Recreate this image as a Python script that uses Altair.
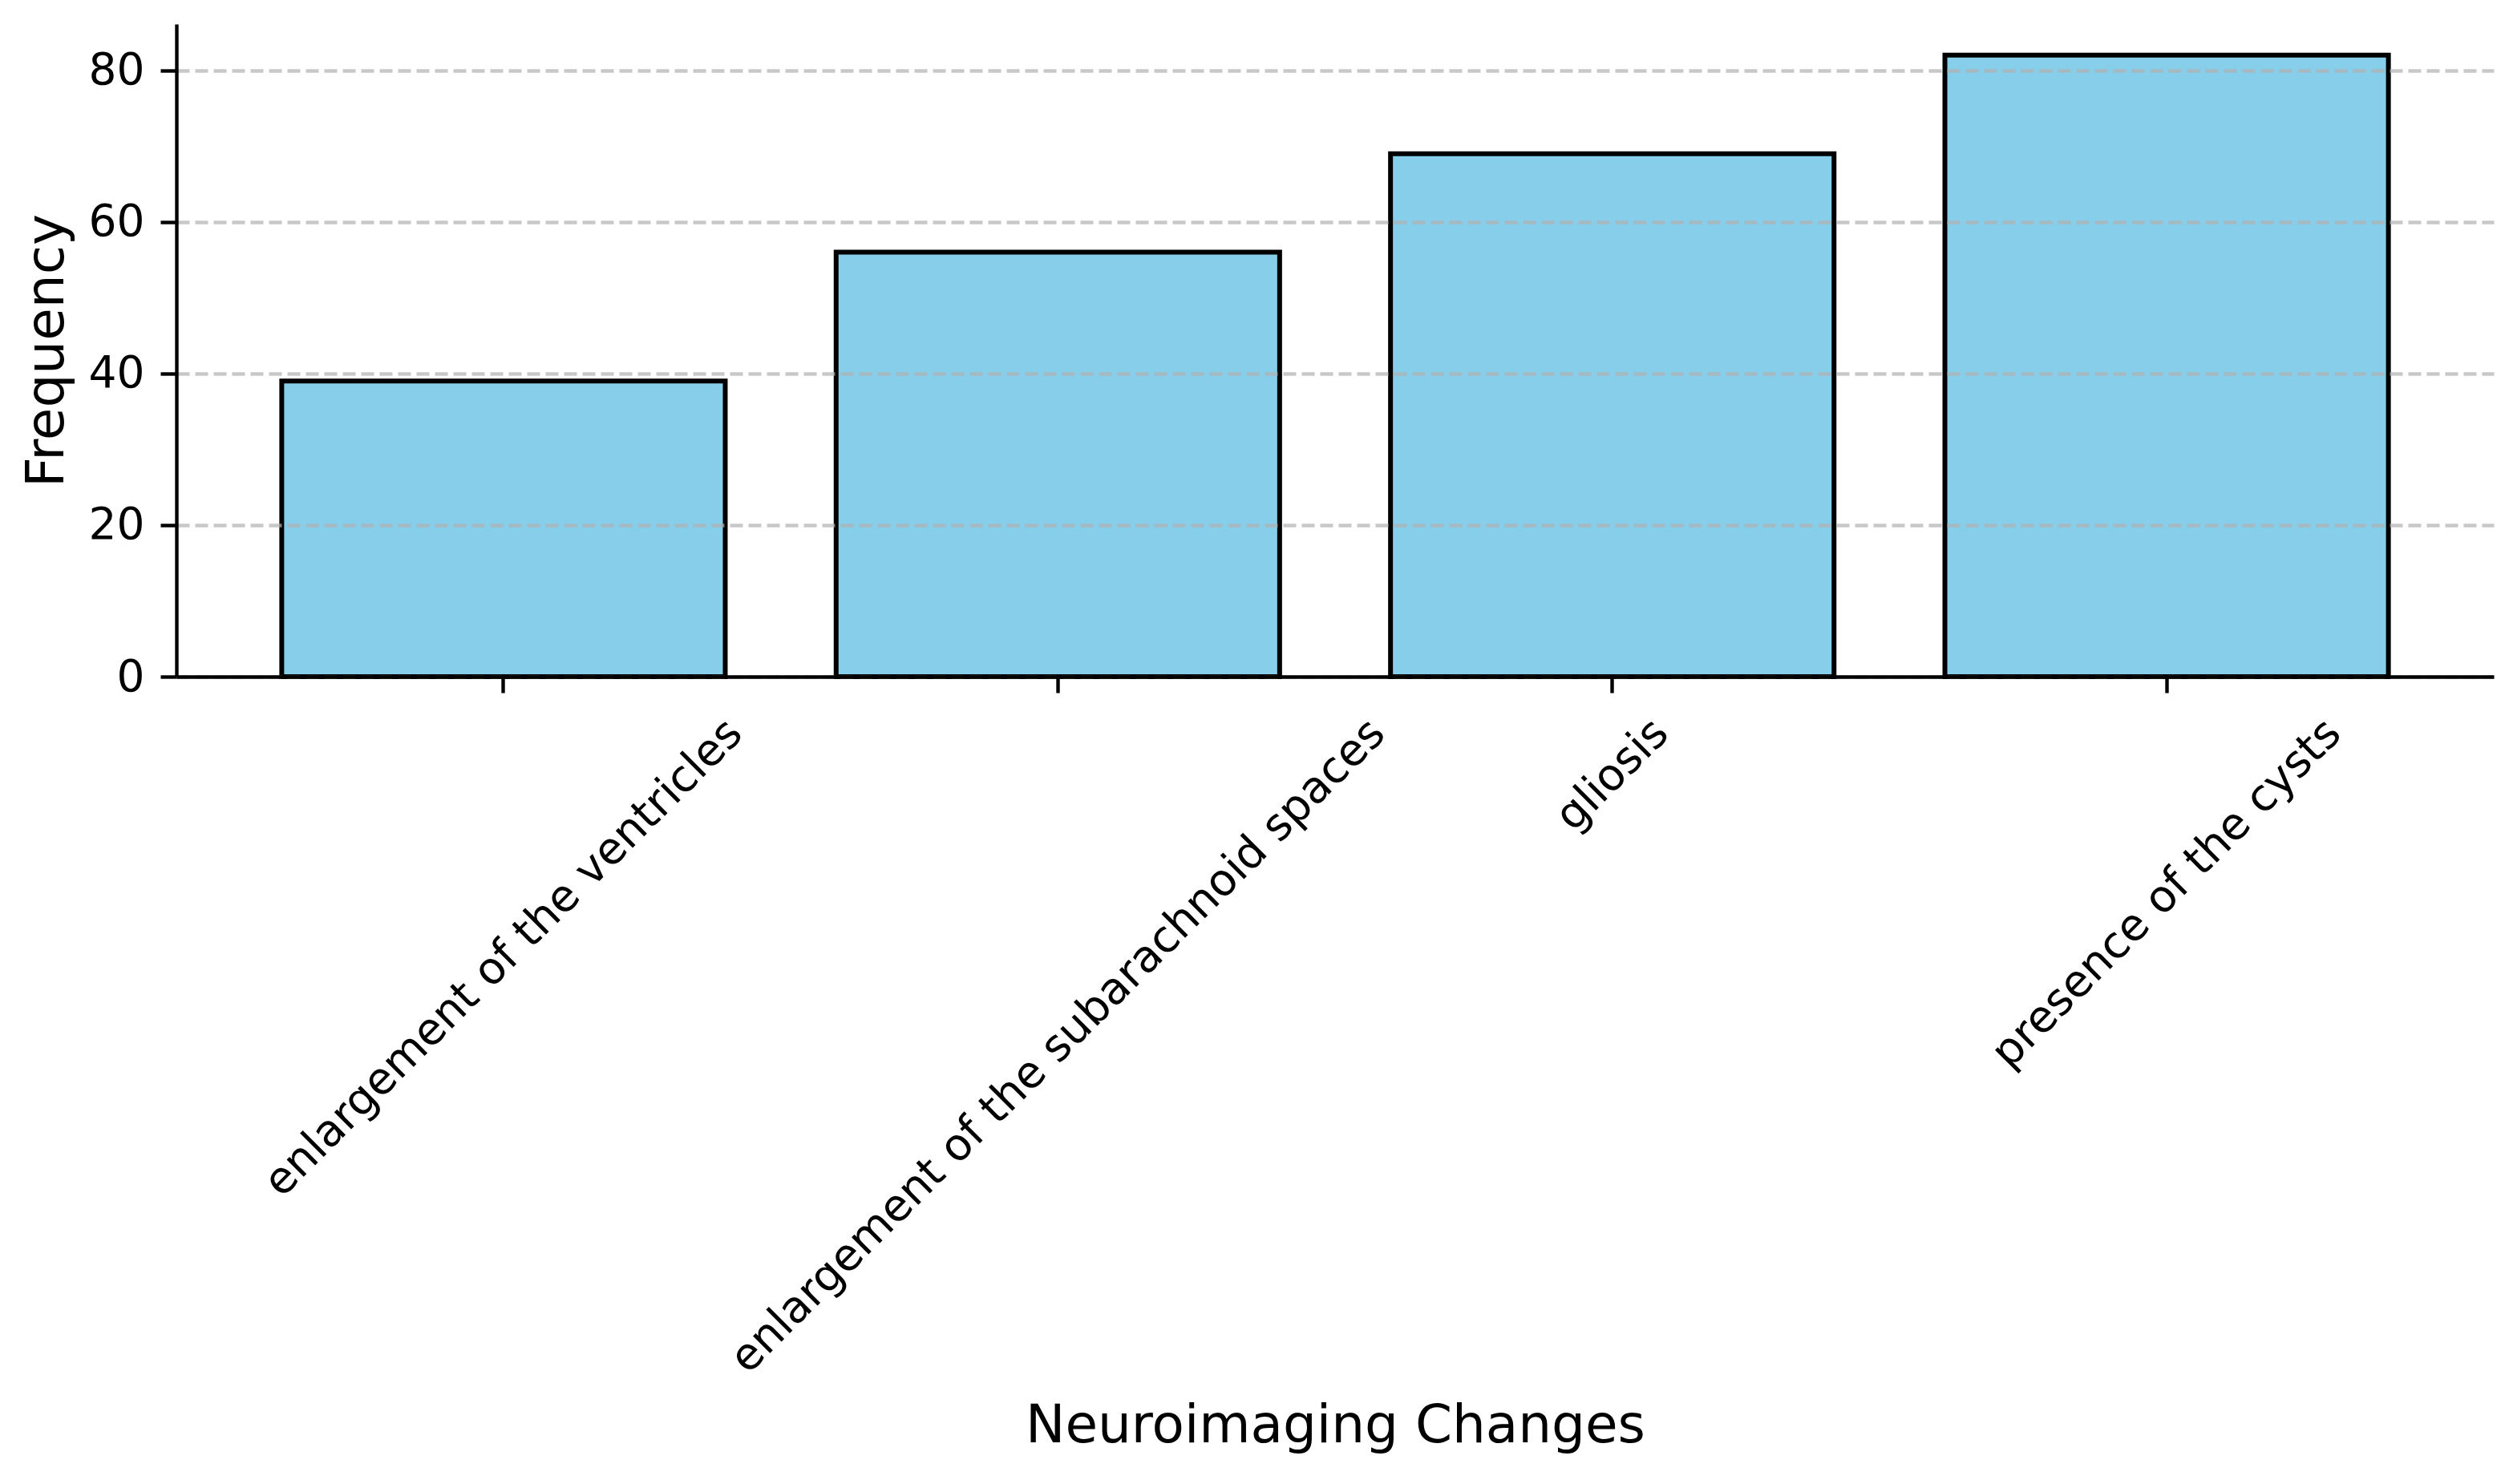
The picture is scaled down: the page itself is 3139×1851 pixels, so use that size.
import altair as alt
import pandas as pd

# ---- data ----
categories = [
    "enlargement of the ventricles",
    "enlargement of the subarachnoid spaces",
    "gliosis",
    "presence of the cysts",
]
frequencies = [39, 56, 69, 82]
y_ticks = [0, 20, 40, 60, 80]
y_max = 86.1  # 82 * 1.05 (matplotlib auto margin)

x_title = "Neuroimaging Changes"
y_title = "Frequency"

# ---- layout / style ----
PLOT_W, PLOT_H = 2890, 814
TICK_FS = 55
TITLE_FS = 66
FONT = "DejaVu Sans"
LW = 4.4

# DejaVu Sans advance widths (em) used to centre rotated labels like matplotlib
ADV = {
    "a": 0.613, "b": 0.635, "c": 0.550, "d": 0.635, "e": 0.615, "f": 0.352,
    "g": 0.635, "h": 0.634, "i": 0.278, "l": 0.278, "m": 0.974, "n": 0.634,
    "o": 0.612, "p": 0.635, "r": 0.411, "s": 0.521, "t": 0.392, "u": 0.634,
    "v": 0.592, "y": 0.592, " ": 0.318,
}


def text_len(s):
    return sum(ADV.get(c, 0.6) for c in s) * TICK_FS


df = pd.DataFrame({"cat": categories, "freq": frequencies})
df["label_y"] = [
    PLOT_H + 39 + 0.7071 * (text_len(c) + 1.164 * TICK_FS) / 2 for c in categories
]

x_axis = alt.Axis(
    labels=False,
    ticks=True,
    tickSize=20,
    tickWidth=LW,
    tickColor="black",
    domainColor="black",
    domainWidth=LW,
    grid=False,
    title=x_title,
    titleFont=FONT,
    titleFontSize=TITLE_FS,
    titleFontWeight="normal",
    titleColor="black",
    titleX=PLOT_W / 2,
    titleY=954,
    titleBaseline="alphabetic",
    titleAlign="center",
    zindex=2,
)
x_scale = alt.Scale(paddingInner=0.2, paddingOuter=0.19)

x_enc = alt.X("cat:N", sort=categories, scale=x_scale, axis=x_axis)

y_enc = alt.Y(
    "freq:Q",
    scale=alt.Scale(domain=[0, y_max], nice=False, zero=True),
    axis=alt.Axis(
        values=y_ticks,
        grid=True,
        gridDash=[16, 7],
        gridColor="#b0b0b0",
        gridOpacity=0.7,
        gridWidth=LW,
        tickSize=20,
        tickWidth=LW,
        tickColor="black",
        domainColor="black",
        domainWidth=LW,
        labelFont=FONT,
        labelFontSize=TICK_FS,
        labelColor="black",
        labelPadding=20,
        title=y_title,
        titleFont=FONT,
        titleFontSize=TITLE_FS,
        titleFontWeight="normal",
        titleColor="black",
        titleAngle=270,
        titleX=-142,
        titleY=PLOT_H / 2,
        titleBaseline="alphabetic",
        titleAlign="center",
        zindex=1,
    ),
)

bars = alt.Chart(df).mark_bar(
    color="#87CEEB", stroke="black", strokeWidth=6
).encode(x=x_enc, y=y_enc)

labels = alt.Chart(df).mark_text(
    angle=315,
    align="center",
    baseline="middle",
    font=FONT,
    fontSize=TICK_FS,
    color="black",
).encode(
    x=alt.X("cat:N", sort=categories, scale=x_scale, axis=x_axis),
    y=alt.Y("label_y:Q", scale=None, axis=None),
    text="cat:N",
)

chart = (
    alt.layer(bars, labels)
    .properties(
        width=PLOT_W,
        height=PLOT_H,
        autosize="none",
        padding={"left": 212, "top": 22, "right": 19, "bottom": 995},
        background="white",
    )
    .configure_view(stroke=None)
)

chart.save("out.html", embed_options={"renderer": "svg", "actions": False})
